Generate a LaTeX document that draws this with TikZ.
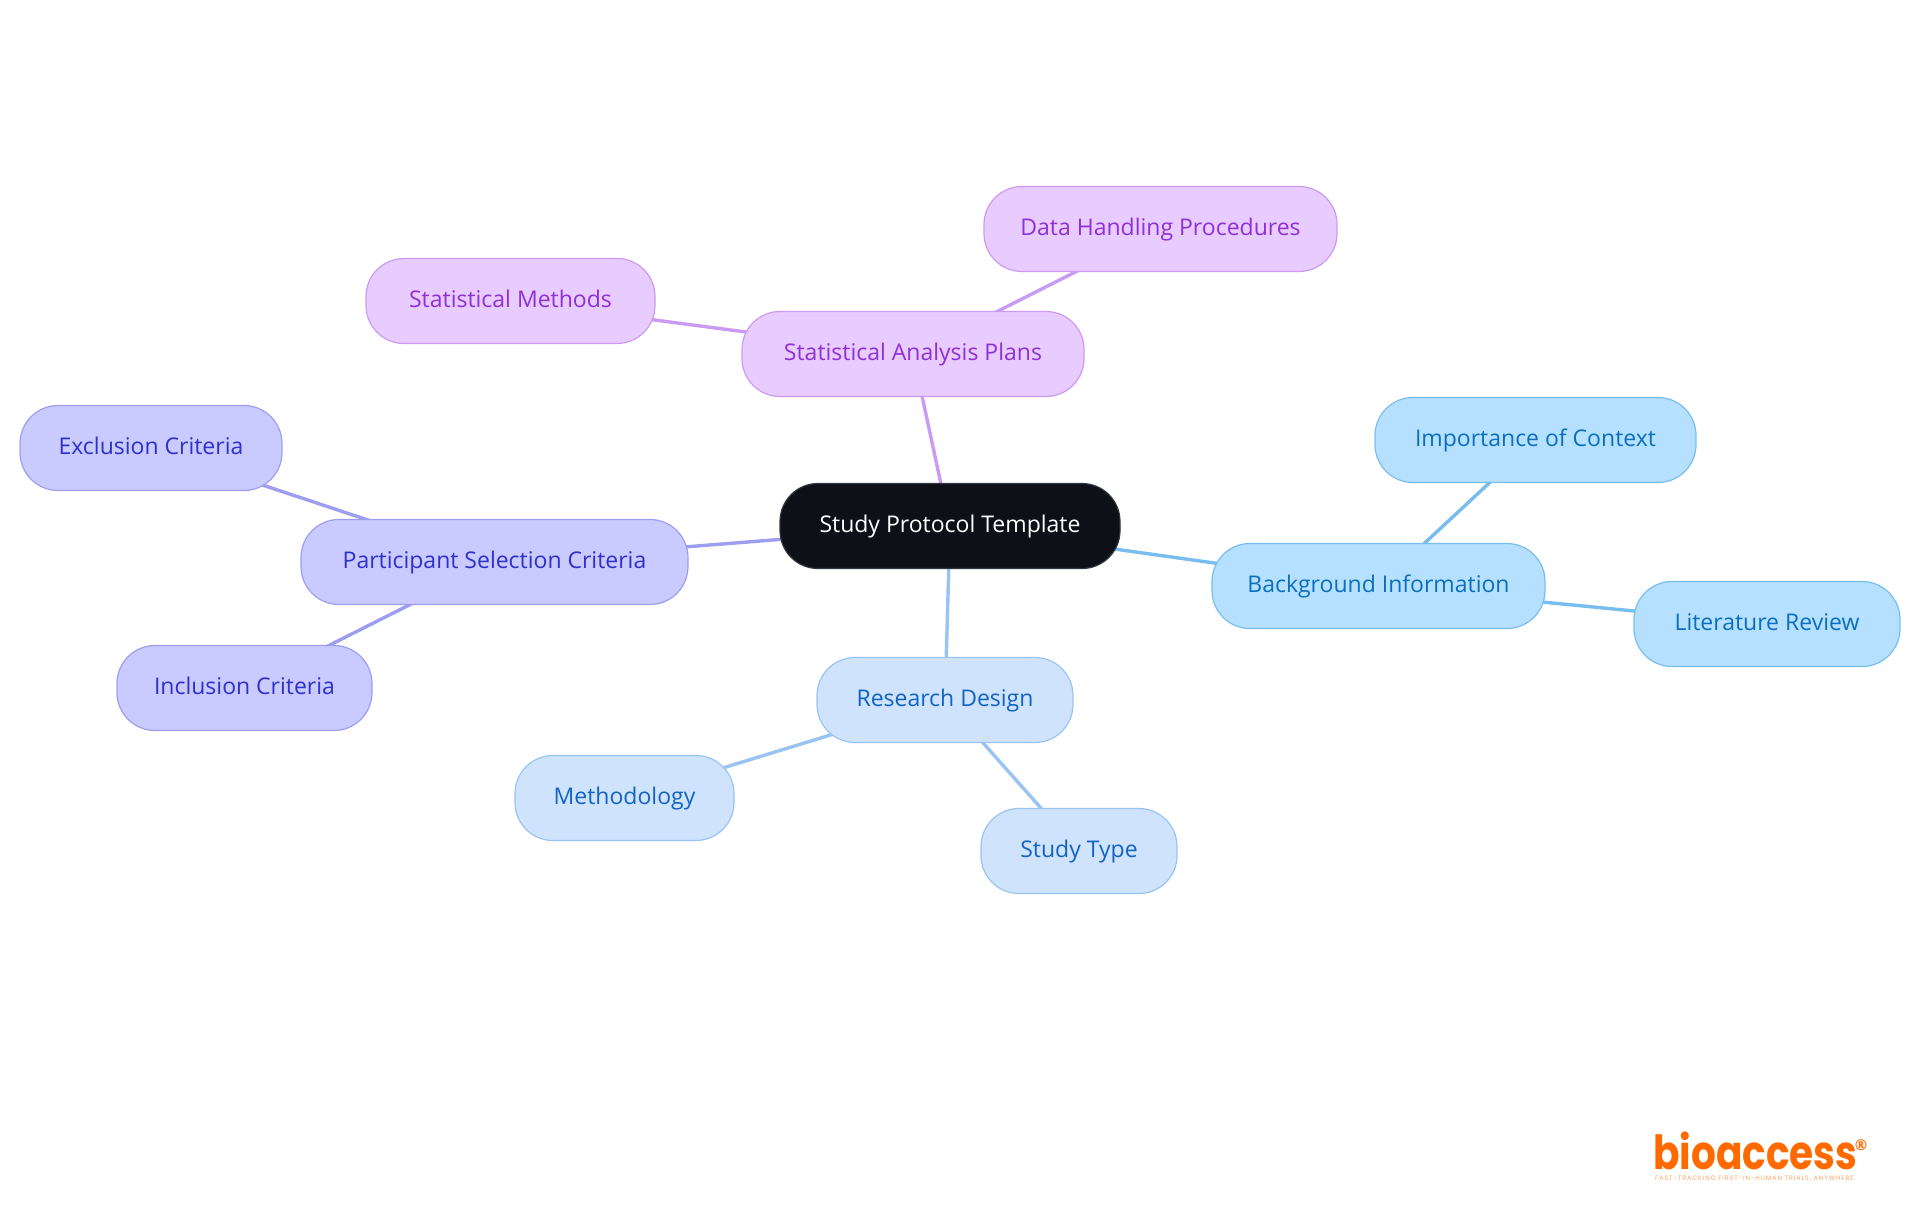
\documentclass[tikz,border=0pt]{standalone}
\usepackage{fontspec}
\setmainfont{Open Sans}
\newfontfamily\logofont[FakeStretch=0.83]{Poppins}
\newfontfamily\tagfont[LetterSpace=14]{Poppins}
\usepackage{xcolor}
\usetikzlibrary{backgrounds}
\definecolor{rootfill}{HTML}{0D1117}
\definecolor{rootline}{HTML}{30363D}
\definecolor{skyfill}{HTML}{B6E0FF}
\definecolor{skyline}{HTML}{78BDF0}
\definecolor{skytext}{HTML}{0A6FBF}
\definecolor{bluefill}{HTML}{CFE3FC}
\definecolor{blueline}{HTML}{99C3F2}
\definecolor{bluetext}{HTML}{1264C4}
\definecolor{indigofill}{HTML}{C9CAFF}
\definecolor{indigoline}{HTML}{9D9EF2}
\definecolor{indigotext}{HTML}{3030CC}
\definecolor{violetfill}{HTML}{E8CBFF}
\definecolor{violetline}{HTML}{CB9AF2}
\definecolor{violettext}{HTML}{9030D8}
\definecolor{logoorange}{HTML}{FF6A00}
\tikzset{
    pill/.style={rounded corners=38pt, minimum height=85pt, inner sep=0pt, text height=17pt, text depth=4pt, line width=1.2pt, font=\fontsize{23}{26}\selectfont},
    rootnode/.style={pill, fill=rootfill, draw=rootline, text=white},
    skynode/.style={pill, fill=skyfill, draw=skyline, text=skytext},
    bluenode/.style={pill, fill=bluefill, draw=blueline, text=bluetext},
    indigonode/.style={pill, fill=indigofill, draw=indigoline, text=indigotext},
    violetnode/.style={pill, fill=violetfill, draw=violetline, text=violettext},
    branch/.style={line width=3.4pt}
}

\begin{document}
\begin{tikzpicture}[x=1pt,y=-1pt]
    \useasboundingbox (0,0) rectangle (1920,1215);

    % Root
    \node[rootnode, minimum width=340pt] (root) at (950,526) {Study Protocol Template};

    % Statistical branch
    \node[violetnode, minimum width=342pt] (plans) at (913,354) {Statistical Analysis Plans};
    \node[violetnode, minimum width=289pt] (methods) at (510.5,301) {Statistical Methods};
    \node[violetnode, minimum width=353pt] (handling) at (1160.5,229) {Data Handling Procedures};

    % Participant branch
    \node[indigonode, minimum width=387pt] (criteria) at (494.5,562) {Participant Selection Criteria};
    \node[indigonode, minimum width=262pt] (exclusion) at (151,448) {Exclusion Criteria};
    \node[indigonode, minimum width=255pt] (inclusion) at (244.5,688) {Inclusion Criteria};

    % Design branch
    \node[bluenode, minimum width=256pt] (design) at (945,700) {Research Design};
    \node[bluenode, minimum width=219pt] (methodology) at (624.5,798) {Methodology};
    \node[bluenode, minimum width=196pt] (studytype) at (1079,851) {Study Type};

    % Background branch
    \node[skynode, minimum width=333pt] (background) at (1378.5,586) {Background Information};
    \node[skynode, minimum width=321pt] (context) at (1535.5,440) {Importance of Context};
    \node[skynode, minimum width=266pt] (literature) at (1767,624) {Literature Review};

    % Branches go behind the nodes
    \begin{scope}[on background layer]
        \draw[branch, violetline] (root.center) -- (plans.center);
        \draw[branch, violetline] (plans.center) -- (methods.center);
        \draw[branch, violetline] (plans.center) -- (handling.center);
        \draw[branch, indigoline] (root.center) -- (criteria.center);
        \draw[branch, indigoline] (criteria.center) -- (exclusion.center);
        \draw[branch, indigoline] (criteria.center) -- (inclusion.center);
        \draw[branch, blueline] (root.center) -- (design.center);
        \draw[branch, blueline] (design.center) -- (methodology.center);
        \draw[branch, blueline] (design.center) -- (studytype.center);
        \draw[branch, skyline] (root.center) -- (background.center);
        \draw[branch, skyline] (background.center) -- (context.center);
        \draw[branch, skyline] (background.center) -- (literature.center);
    \end{scope}

    % Logo
    \node[inner sep=0pt, text=logoorange, anchor=base west, font=\logofont\bfseries\fontsize{47}{50}\selectfont] (logo) at (1653,1169) {bioaccess};
    \node[inner sep=0pt, text=logoorange, anchor=base, font=\bfseries\fontsize{15}{15}\selectfont] (mark) at (1861,1150) {®};
    \node[inner sep=0pt, text=logoorange!60, anchor=base west, font=\tagfont\fontsize{6.4}{7}\selectfont] (tagline) at (1655,1180) {FAST-TRACKING FIRST-IN-HUMAN TRIALS, ANYWHERE};
\end{tikzpicture}
\end{document}
